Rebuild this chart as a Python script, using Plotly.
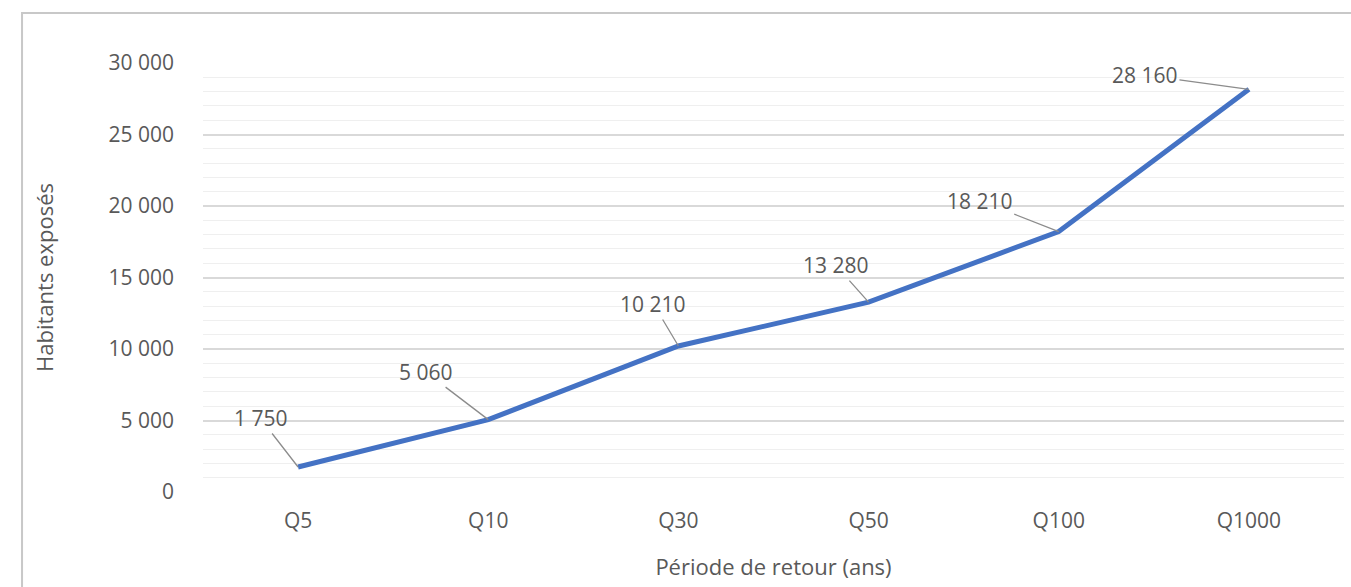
import plotly.graph_objects as go

periodes = ["Q5", "Q10", "Q30", "Q50", "Q100", "Q1000"]
habitants = [1750, 5060, 10210, 13280, 18210, 28160]

# label offsets (px) for the leader-line annotations
offsets_x = [-38, -63, -25, -33, -79, -104]
offsets_y = [-49, -48, -42, -37, -31, -14]

FONT = "'Open Sans', Lato, sans-serif"
GREY = "#595959"

fig = go.Figure()
fig.add_trace(go.Scatter(
    x=periodes, y=habitants, mode="lines",
    line=dict(color="#4472C4", width=5),
    hoverinfo="x+y", showlegend=False,
))

for p, h, ax, ay in zip(periodes, habitants, offsets_x, offsets_y):
    fig.add_annotation(
        x=p, y=h, ax=ax, ay=ay,
        text=f"{h:,}".replace(",", " "),
        showarrow=True, arrowhead=0, arrowwidth=1.3, arrowcolor="#8c8c8c",
        font=dict(family=FONT, size=21, color=GREY),
    )

fig.update_layout(
    width=1351, height=587,
    margin=dict(l=203, r=7, t=63, b=95),
    paper_bgcolor="white", plot_bgcolor="white",
    separators=", ",
    font=dict(family=FONT, size=21, color=GREY),
    xaxis=dict(
        title=dict(text="Période de retour (ans)", standoff=26,
                   font=dict(size=22, color=GREY)),
        range=[-0.5, 5.5],
        showgrid=False, zeroline=False, showline=False,
        ticks="", ticklabelstandoff=14,
    ),
    yaxis=dict(
        title=dict(text="Habitants exposés", standoff=48,
                   font=dict(size=22, color=GREY)),
        range=[0, 30000], dtick=5000, tickformat=",d",
        showgrid=True, gridcolor="#d9d9d9", gridwidth=1.5,
        minor=dict(dtick=1000, showgrid=True, gridcolor="#efefef", gridwidth=1),
        zeroline=False, showline=False, ticks="", ticklabelstandoff=28,
    ),
    shapes=[dict(
        type="rect", xref="paper", yref="paper",
        x0=-0.1586, x1=1.1, y0=-0.3, y1=1.1166,
        line=dict(color="#c8c8c8", width=2), layer="below",
    )],
)

# drop the default page margin / scrollbars so the figure fills the window
fig.write_html(
    "out.html",
    config={"displayModeBar": False},
    post_script="document.body.style.margin='0';document.body.style.overflow='hidden';",
)
